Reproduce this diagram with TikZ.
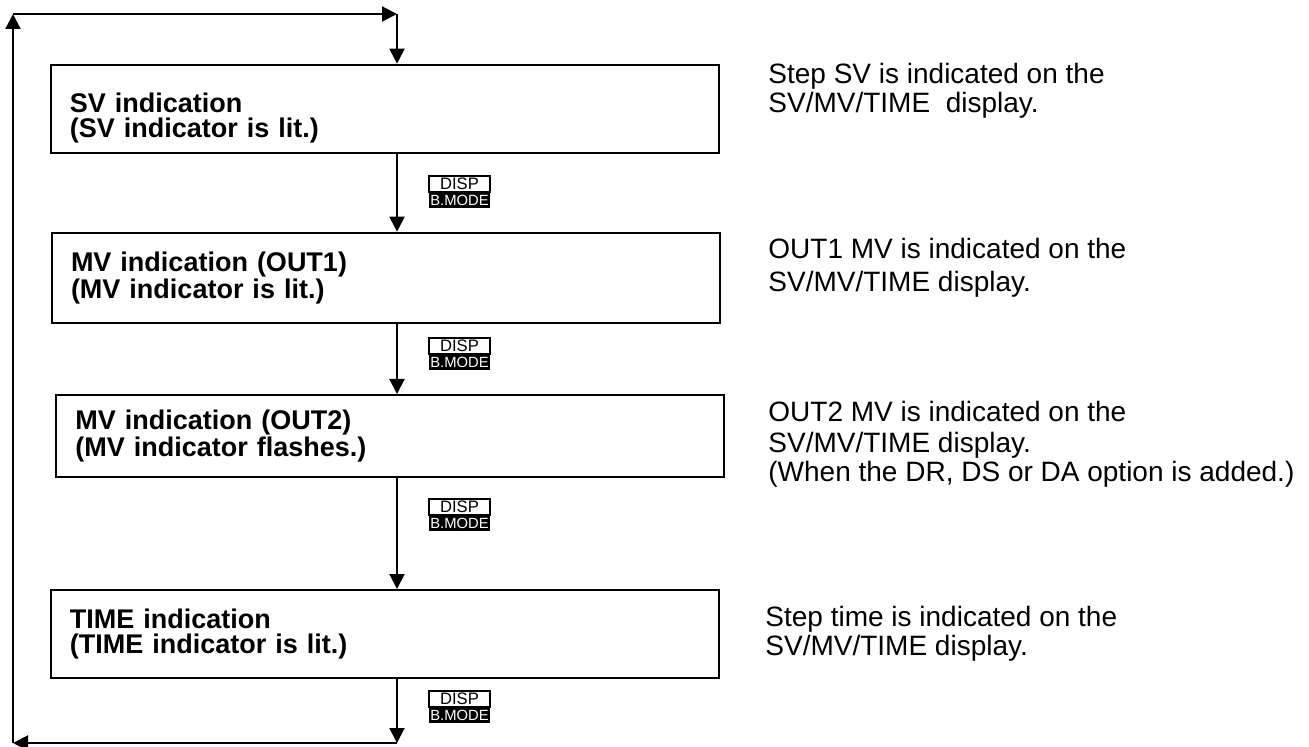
\documentclass[tikz,border=0pt]{standalone}
\usepackage{fontspec}
\setmainfont{Liberation Sans}
\usetikzlibrary{arrows.meta,positioning}

\tikzset{
  B/.style    = {draw, line width=1pt, align=left, text width=315pt,
                 inner xsep=9.5pt, inner ysep=0pt,
                 font=\fontsize{13.5}{12.5}\selectfont\bfseries},
  D/.style    = {anchor=north west, inner sep=0pt, align=left,
                 font=\fontsize{14}{14.5}\selectfont},
  keyT/.style = {draw, line width=0.6pt, fill=white, inner sep=0pt,
                 minimum width=30.5pt, minimum height=8pt,
                 font=\fontsize{8.3}{8}\selectfont},
  keyB/.style = {fill=black, text=white, inner sep=0pt,
                 minimum width=30.5pt, minimum height=7.5pt,
                 font=\fontsize{7.4}{8}\selectfont},
  A/.style    = {-{Triangle[length=7.5pt,width=7.5pt]}, line width=1pt},
}

\begin{document}
\lineskiplimit=-10pt
\begin{tikzpicture}[x=0.5pt, y=-0.5pt]
\useasboundingbox (0,0) rectangle (1309,747);

%% ─── indication boxes ─────────────────────────────────────
\node[B, minimum height=44pt] (b1) at (384.9,108.7)
  {\rule{0pt}{19pt}SV indication\\(SV indicator is lit.)};
\node[B, minimum height=45pt] (b2) at (386,277.7)
  {MV indication (OUT1)\\(MV indicator is lit.)};
\node[B, minimum height=41pt] (b3) at (390.3,436)
  {MV indication (OUT2)\\(MV indicator flashes.)};
\node[B, minimum height=44pt] (b4) at (384.9,634)
  {TIME indication\\(TIME indicator is lit.)};

%% ─── descriptions ─────────────────────────────────────────
\node[D] (d1) at (768,63)
  {Step SV is indicated on the\\SV/MV/TIME\ \ display.};
\node[D] (d2) at (768,238)
  {OUT1 MV is indicated on the\\[2pt]SV/MV/TIME display.};
\node[D] (d3) at (768,401)
  {OUT2 MV is indicated on the\\[1pt]SV/MV/TIME display.\\(When the DR, DS or DA option is added.)};
\node[D] (d4) at (765,606)
  {Step time is indicated on the\\SV/MV/TIME display.};

%% ─── DISP / B.MODE keys ───────────────────────────────────
\node[keyT] (k1) at (459.5,184) {DISP};
\node[keyB, below=0pt of k1] (k1b) {B.MODE};
\node[keyT] (k2) at (459.5,346) {DISP};
\node[keyB, below=0pt of k2] (k2b) {B.MODE};
\node[keyT] (k3) at (459.5,507) {DISP};
\node[keyB, below=0pt of k3] (k3b) {B.MODE};
\node[keyT] (k4) at (459.5,699) {DISP};
\node[keyB, below=0pt of k4] (k4b) {B.MODE};

%% ─── flow ─────────────────────────────────────────────────
\coordinate (TL) at (13,14);
\coordinate (TR) at (397,14);
\coordinate (BL) at (13,743);
\coordinate (BR) at (397,743);

\draw[A] (TR) -- (TR |- b1.north);
\draw[A] (b1.south -| TR) -- (TR |- b2.north);
\draw[A] (b2.south -| TR) -- (TR |- b3.north);
\draw[A] (b3.south -| TR) -- (TR |- b4.north);
\draw[A] (b4.south -| TR) -- (BR);
\draw[A] (BR) -- (BL);
\draw[A] (BL) -- (TL);
\draw[A] (TL) -- (TR);

\end{tikzpicture}
\end{document}
